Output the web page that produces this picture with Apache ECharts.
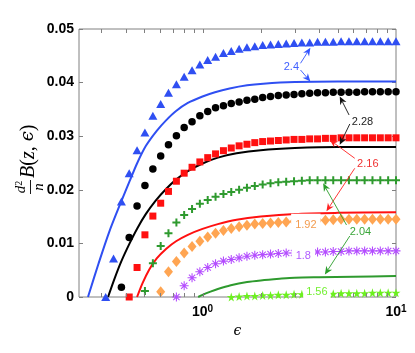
<!DOCTYPE html>
<html>
<head>
<meta charset="utf-8">
<script src="https://cdn.jsdelivr.net/npm/echarts@6/dist/echarts.min.js"></script>
<style>
html, body { margin: 0; padding: 0; background: #fff; }
#main { width: 415px; height: 353px; }
</style>
</head>
<body>
<div id="main"></div>
<script>
// epsilon grid shared by all the marker series (log spaced)
var epsGrid = [0.316, 0.347, 0.381, 0.418, 0.459, 0.504, 0.554, 0.608, 0.667, 0.733,
    0.804, 0.883, 0.969, 1.064, 1.168, 1.283, 1.408, 1.546, 1.697, 1.863,
    2.046, 2.246, 2.465, 2.707, 2.972, 3.262, 3.581, 3.932, 4.317, 4.739,
    5.203, 5.712, 6.271, 6.884, 7.558, 8.297, 9.109, 10];

// markers (null = not drawn)
var tri240 = [0, 0.0072, 0.0178, 0.0231, 0.0274, 0.0307, 0.0338, 0.0360, 0.0381, 0.0397,
    0.0411, 0.0423, 0.0434, 0.0442, 0.0448, 0.0455, 0.0459, 0.0463, 0.0466, 0.0468,
    0.0470, 0.0471, 0.0472, 0.0473, 0.0474, 0.0475, 0.0475, 0.0476, 0.0476, 0.0476,
    0.0477, 0.0477, 0.0477, 0.0477, 0.0477, 0.0477, 0.0477, 0.0477];
var dot228 = [null, null, 0.0018, 0.0111, 0.0170, 0.0208, 0.0239, 0.0263, 0.0284, 0.0301,
    0.0316, 0.0327, 0.0338, 0.0346, 0.0353, 0.0357, 0.0361, 0.0364, 0.0367, 0.0369,
    0.0372, 0.0374, 0.0376, 0.0377, 0.0378, 0.0379, 0.0380, 0.0381, 0.0381, 0.0382,
    0.0382, 0.0382, 0.0382, 0.0383, 0.0383, 0.0383, 0.0383, 0.0383];
var sq216 = [null, null, null, 0, 0.0055, 0.0116, 0.0151, 0.0175, 0.0197, 0.0216,
    0.0231, 0.0242, 0.0252, 0.0260, 0.0267, 0.0273, 0.0278, 0.0282, 0.0285, 0.0288,
    0.0290, 0.0291, 0.0292, 0.0293, 0.0294, 0.0294, 0.0295, 0.0295, 0.0296, 0.0296,
    0.0297, 0.0297, 0.0297, 0.0297, 0.0297, 0.0297, 0.0297, 0.0297];
var plus204 = [null, null, null, null, null, 0.0011, 0.0063, 0.0095, 0.0119, 0.0139,
    0.0153, 0.0164, 0.0174, 0.0181, 0.0187, 0.0192, 0.0196, 0.0200, 0.0204, 0.0207,
    0.0210, 0.0212, 0.0214, 0.0215, 0.0216, 0.0217, 0.0218, 0.0218, 0.0218, 0.0218,
    0.0218, 0.0218, 0.0218, 0.0218, 0.0218, 0.0218, 0.0218, 0.0218];
var dia192 = [null, null, null, null, null, null, null, 0.0010, 0.0047, 0.0066,
    0.0082, 0.0094, 0.0104, 0.0112, 0.0119, 0.0124, 0.0128, 0.0131, 0.0134, 0.0136,
    0.0137, 0.0138, 0.0139, 0.0140, 0.0141, 0.0142, 0.0142, 0.0143, 0.0143, 0.0144,
    0.0145, 0.0145, 0.0145, 0.0145, 0.0145, 0.0145, 0.0145, 0.0145];
var ast180 = [null, null, null, null, null, null, null, null, null, 0,
    0.0021, 0.0036, 0.0047, 0.0055, 0.0062, 0.0067, 0.0070, 0.0073, 0.0076, 0.0078,
    0.0079, 0.0080, 0.0081, 0.0082, 0.0082, 0.0083, 0.0083, 0.0084, 0.0084, 0.0085,
    0.0085, 0.0086, 0.0086, 0.0086, 0.0086, 0.0086, 0.0086, 0.0086];
var star156 = [null, null, null, null, null, null, null, null, null, null,
    null, null, null, null, null, null, 0, 0.0001, 0.0002, 0.0002,
    0.0003, 0.0003, 0.0004, 0.0004, 0.0005, 0.0005, 0.0005, 0.0006, 0.0006, 0.0006,
    0.0007, 0.0007, 0.0007, 0.0007, 0.0008, 0.0008, 0.0008, 0.0008];

// solid curves
var lineEps240 = [0.256, 0.29, 0.33, 0.38, 0.42, 0.46, 0.51, 0.58, 0.65, 0.73, 0.84, 1.0, 1.16, 1.38, 1.7, 2.06, 3.0, 5.0, 10];
var line240 = [0, 0.0062, 0.0122, 0.0178, 0.0216, 0.0250, 0.0282, 0.0310, 0.0330, 0.0347, 0.0362, 0.0374, 0.0382, 0.0389, 0.0395, 0.0398, 0.0401, 0.0402, 0.0402];
var lineEps228 = [0.325, 0.35, 0.38, 0.42, 0.46, 0.51, 0.57, 0.65, 0.73, 0.84, 1.0, 1.2, 1.5, 2.0, 3.0, 5.0, 10];
var line228 = [0, 0.0033, 0.0066, 0.0100, 0.0128, 0.0155, 0.0179, 0.0202, 0.0219, 0.0235, 0.0249, 0.0260, 0.0268, 0.0274, 0.0278, 0.0280, 0.0280];
var lineEps216 = [0.459, 0.49, 0.53, 0.58, 0.65, 0.73, 0.84, 1.0, 1.2, 1.5, 2.0, 3.0, 5.0, 10];
var line216 = [0, 0.0026, 0.0051, 0.0072, 0.0090, 0.0104, 0.0116, 0.0127, 0.0136, 0.0144, 0.0150, 0.0155, 0.0157, 0.0158];
var lineEps204 = [0.95, 1.0, 1.1, 1.2, 1.4, 1.7, 2.0, 2.5, 3.0, 4.0, 6.0, 10];
var line204 = [0, 0.0004, 0.0010, 0.0015, 0.0022, 0.0028, 0.0031, 0.0034, 0.0036, 0.0037, 0.0038, 0.0039];

// log minor/major tick values on the x axis
var xTickVals = [0.3, 0.4, 0.5, 0.6, 0.7, 0.8, 0.9, 1, 2, 3, 4, 5, 6, 7, 8, 9];

function onGrid(vals) {
    var out = [];
    for (var i = 0; i < vals.length; i++) {
        if (vals[i] !== null) out.push([epsGrid[i], vals[i]]);
    }
    return out;
}
function zip(xs, ys) {
    var out = [];
    for (var i = 0; i < xs.length; i++) out.push([xs[i], ys[i]]);
    return out;
}

var plusPath = 'path://M3,0L5,0L5,3L8,3L8,5L5,5L5,8L3,8L3,5L0,5L0,3L3,3Z';
var astPath = 'path://M4.4,0L5.6,0L5.6,10L4.4,10Z M0,4.4L10,4.4L10,5.6L0,5.6Z M1.92,1.08L8.92,8.08L8.08,8.92L1.08,1.92Z M8.08,1.08L8.92,1.92L1.92,8.92L1.08,8.08Z';
var starPath = 'path://M50,0L61,35L98,35L68,57L79,91L50,70L21,91L32,57L2,35L39,35Z';

function curve(data, color) {
    return {
        type: 'line', data: data, showSymbol: false, smooth: 0.3,
        lineStyle: { color: color, width: 2 }, z: 2, silent: true
    };
}
function marks(data, symbol, size, color) {
    return {
        type: 'scatter', data: data, symbol: symbol, symbolSize: size,
        itemStyle: { color: color, opacity: 1 }, z: 3, silent: true
    };
}

var chart = echarts.init(document.getElementById('main'), null, { renderer: 'canvas' });
var tickFont = 'Liberation Sans, Arial, Helvetica, sans-serif';

var option = {
    animation: false,
    backgroundColor: '#fff',
    grid: {
        left: 79, right: 19, top: 29, bottom: 56,
        show: true, borderColor: '#808080', borderWidth: 1,
        outerBoundsMode: 'none'
    },
    xAxis: {
        type: 'log', logBase: 10, min: 0.23, max: 10,
        axisLine: { show: false },
        axisTick: { show: false },
        splitLine: { show: false },
        axisLabel: {
            margin: 7, showMinLabel: true, showMaxLabel: true,
            formatter: function (v) {
                var e = Math.log(v) / Math.LN10;
                if (Math.abs(e - Math.round(e)) > 1e-6) return '';
                return '{b|10}{s|' + Math.round(e) + '}';
            },
            rich: {
                b: { fontSize: 14, fontWeight: 'bold', fontFamily: tickFont, color: '#000' },
                s: { fontSize: 10, fontWeight: 'bold', fontFamily: tickFont, color: '#000', verticalAlign: 'top', padding: [0, 0, 6, 0] }
            }
        },
        name: 'ϵ', nameLocation: 'middle', nameGap: 26,
        nameTextStyle: { fontFamily: 'DejaVu Serif', fontStyle: 'italic', fontSize: 14, color: '#000' }
    },
    yAxis: [{
        type: 'value', min: 0, max: 0.05, interval: 0.01,
        axisLine: { show: false },
        axisTick: { show: true, inside: true, length: 4, lineStyle: { color: '#808080' } },
        splitLine: { show: false },
        axisLabel: {
            margin: 5, fontSize: 14, fontWeight: 'bold', color: '#000', fontFamily: tickFont,
            formatter: function (v) { return v === 0 ? '0' : v.toFixed(2); }
        }
    }, {
        type: 'value', min: 0, max: 0.05, interval: 0.01, position: 'right',
        axisLine: { show: false },
        axisTick: { show: true, inside: true, length: 4, lineStyle: { color: '#808080' } },
        splitLine: { show: false },
        axisLabel: { show: false }
    }],
    series: [
        curve(zip(lineEps240, line240), '#2f4ff2'),
        curve(zip(lineEps228, line228), '#000000'),
        curve(zip(lineEps216, line216), '#ff1010'),
        curve(zip(lineEps204, line204), '#2e9a2e'),
        marks(onGrid(tri240), 'triangle', [9, 8], '#2f4ff2'),
        marks(onGrid(dot228), 'circle', 7.5, '#000000'),
        marks(onGrid(sq216), 'rect', 7, '#ff1010'),
        marks(onGrid(plus204), plusPath, 8, '#2e9a2e'),
        marks(onGrid(dia192), 'diamond', [9, 11], '#ffa552'),
        marks(onGrid(ast180), astPath, 9, '#b44dff'),
        marks(onGrid(star156), starPath, 9, '#6cf01f')
    ]
};
chart.setOption(option);

// annotations (data coordinates)
var notes = [
    { text: '2.4', at: [2.88, 0.0430], color: '#4060ff' },
    { text: '2.28', at: [6.71, 0.0327], color: '#222222' },
    { text: '2.16', at: [7.15, 0.0248], color: '#f03030' },
    { text: '2.04', at: [6.55, 0.0122], color: '#3aa63a' },
    { text: '1.92', at: [3.42, 0.0134], color: '#f39c4f', box: [6, 4] },
    { text: '1.8', at: [3.32, 0.00765], color: '#b05cff', box: [4, 4] },
    { text: '1.56', at: [3.90, 0.00093], color: '#72f030', box: [4, 3] }
];
var arrows = [
    { from: [3.21, 0.0436], to: [3.61, 0.0465], color: '#3355ff' },
    { from: [3.21, 0.04235], to: [3.61, 0.0402], color: '#3355ff' },
    { from: [5.72, 0.03396], to: [5.12, 0.0374], color: '#111111' },
    { from: [5.77, 0.03228], to: [5.12, 0.0284], color: '#111111' },
    { from: [6.12, 0.02588], to: [4.55, 0.0293], color: '#ff2020' },
    { from: [6.12, 0.02401], to: [4.37, 0.0160], color: '#ff2020' },
    { from: [5.55, 0.01343], to: [4.20, 0.0212], color: '#2a9e2a' },
    { from: [5.77, 0.01138], to: [4.29, 0.0042], color: '#2a9e2a' }
];

function px(p) { return chart.convertToPixel({ gridIndex: 0 }, p); }

var els = [];
// x ticks, bottom and top, inside
var yBottom = px([1, 0])[1], yTop = px([1, 0.05])[1];
xTickVals.forEach(function (v) {
    var x = Math.round(px([v, 0])[0]) + 0.5;
    els.push({ type: 'line', shape: { x1: x, y1: yBottom, x2: x, y2: yBottom - 4 }, style: { stroke: '#808080', lineWidth: 1 }, z: 50 });
    els.push({ type: 'line', shape: { x1: x, y1: yTop, x2: x, y2: yTop + 4 }, style: { stroke: '#808080', lineWidth: 1 }, z: 50 });
});

arrows.forEach(function (a) {
    var p0 = px(a.from), p1 = px(a.to);
    var dx = p1[0] - p0[0], dy = p1[1] - p0[1];
    var L = Math.sqrt(dx * dx + dy * dy);
    var ux = dx / L, uy = dy / L, nx = -uy, ny = ux;
    var hl = 8, hw = 3.5, notch = 2.5;
    var bx = p1[0] - ux * hl, by = p1[1] - uy * hl;
    var mid = [p1[0] - ux * (hl - notch), p1[1] - uy * (hl - notch)];
    els.push({ type: 'line', shape: { x1: p0[0], y1: p0[1], x2: mid[0], y2: mid[1] }, style: { stroke: a.color, lineWidth: 0.9 }, z: 110 });
    els.push({ type: 'polygon', shape: { points: [p1, [bx + nx * hw, by + ny * hw], mid, [bx - nx * hw, by - ny * hw]] }, style: { fill: a.color }, z: 110 });
});

notes.forEach(function (n) {
    var p = px(n.at);
    var st = {
        text: n.text, fill: n.color, fontSize: 11, fontFamily: tickFont,
        align: 'center', verticalAlign: 'middle'
    };
    if (n.box) {
        st.backgroundColor = '#fff';
        st.padding = n.box;
    }
    els.push({ type: 'text', x: p[0], y: p[1], style: st, z: 120 });
});

// y axis title: d^2/n B(z, eps), rotated
els.push({
    type: 'group', x: 30.5, y: 158, rotation: Math.PI / 2, z: 100,
    children: [
        { type: 'text', x: -29, y: -1.5, style: {
            text: '{i|d}{r|2}', align: 'center', verticalAlign: 'bottom',
            rich: {
                i: { fontSize: 15, fontStyle: 'italic', fontFamily: 'Liberation Serif, serif', fill: '#000' },
                r: { fontSize: 10, fontFamily: 'Liberation Serif, serif', fill: '#000', verticalAlign: 'top' }
            } } },
        { type: 'line', shape: { x1: -36, y1: 0, x2: -22, y2: 0 }, style: { stroke: '#000', lineWidth: 0.9 } },
        { type: 'text', x: -29, y: 1.5, style: {
            text: 'n', align: 'center', verticalAlign: 'top', fontSize: 15, fontStyle: 'italic',
            fontFamily: 'Liberation Serif, serif', fill: '#000' } },
        { type: 'text', x: -20, y: -2, style: {
            text: '{i|B}{r|(}{i|z}{r|, }{e|ϵ}{r|)}', align: 'left', verticalAlign: 'middle',
            rich: {
                i: { fontSize: 20, fontStyle: 'italic', fontFamily: 'Liberation Serif, serif', fill: '#000' },
                r: { fontSize: 20, fontFamily: 'Liberation Serif, serif', fill: '#000' },
                e: { fontSize: 18, fontStyle: 'italic', fontFamily: 'DejaVu Serif, serif', fill: '#000' }
            } } }
    ]
});

chart.setOption({ graphic: { elements: els } });
</script>
</body>
</html>
